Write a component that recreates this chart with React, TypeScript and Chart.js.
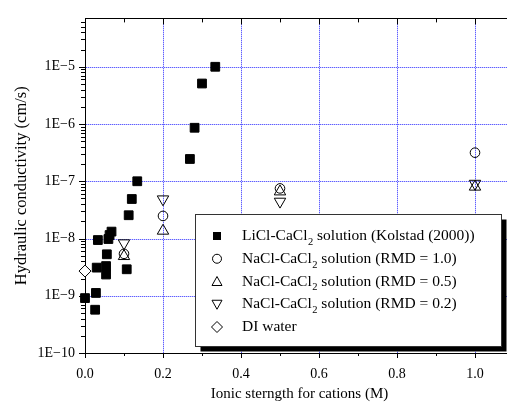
import { useEffect, useRef } from "react";
import { Chart, registerables } from "chart.js";
Chart.register(...registerables);

// ---- data ----
const xTickValues = [0, 0.2, 0.4, 0.6, 0.8, 1.0];
const xTickLabels = ["0.0", "0.2", "0.4", "0.6", "0.8", "1.0"];
const xMinorTicks = [0.1, 0.3, 0.5, 0.7, 0.9];
const xGridValues = [0.2, 0.4, 0.6, 0.8, 1.0];
const yTickValues = [1e-10, 1e-9, 1e-8, 1e-7, 1e-6, 1e-5];
const yTickLabels = ["1E\u221210", "1E\u22129", "1E\u22128", "1E\u22127", "1E\u22126", "1E\u22125"];
const yGridValues = [1e-9, 1e-8, 1e-7, 1e-6, 1e-5];

const liclX = [0.0, 0.026, 0.028, 0.03, 0.033, 0.054, 0.054, 0.056, 0.06, 0.063, 0.068, 0.107, 0.112, 0.12, 0.134, 0.269, 0.281, 0.3, 0.334];
const liclY = [9.1e-10, 5.7e-10, 1.12e-9, 3.1e-9, 9.4e-9, 3.3e-9, 2.35e-9, 5.3e-9, 9.8e-9, 1.15e-8, 1.32e-8, 2.9e-9, 2.55e-8, 4.9e-8, 1.0e-7, 2.45e-7, 8.6e-7, 5.1e-6, 1.0e-5];

const rmd10X = [0.1, 0.2, 0.5, 1.0];
const rmd10Y = [5.4e-9, 2.48e-8, 7.5e-8, 3.16e-7];
const rmd05X = [0.1, 0.2, 0.5, 1.0];
const rmd05Y = [4.9e-9, 1.36e-8, 6.6e-8, 8.0e-8];
const rmd02X = [0.1, 0.2, 0.5, 1.0];
const rmd02Y = [8.3e-9, 4.86e-8, 4.43e-8, 9.1e-8];
const diX = [0.0];
const diY = [2.7e-9];

const legendLabels: string[][] = [
  ["LiCl-CaCl", "2", " solution (Kolstad (2000))"],
  ["NaCl-CaCl", "2", " solution (RMD = 1.0)"],
  ["NaCl-CaCl", "2", " solution (RMD = 0.5)"],
  ["NaCl-CaCl", "2", " solution (RMD = 0.2)"],
  ["DI water", "", ""],
];
const legendMarkers = ["square", "circle", "up", "down", "diamond"];

const xTitle = "Ionic sterngth for cations (M)";
const yTitle = "Hydraulic conductivity (cm/s)";

const FONT = "'Liberation Serif', 'Times New Roman', serif";
const GRID_DOT = "rgb(95,95,255)";
const GRID_FAINT = "rgb(200,200,255)";

function pts(xs: number[], ys: number[]) {
  return xs.map((x, i) => ({ x, y: ys[i] }));
}

function drawMarker(ctx: CanvasRenderingContext2D, kind: string, x: number, y: number) {
  ctx.save();
  ctx.strokeStyle = "#000";
  ctx.fillStyle = "#000";
  ctx.lineWidth = 1;
  ctx.beginPath();
  if (kind === "square") {
    ctx.fillRect(x - 4, y - 4, 8, 8);
  } else if (kind === "circle") {
    ctx.arc(x, y, 4.5, 0, Math.PI * 2);
    ctx.stroke();
  } else if (kind === "up") {
    ctx.moveTo(x, y - 5);
    ctx.lineTo(x + 5, y + 4);
    ctx.lineTo(x - 5, y + 4);
    ctx.closePath();
    ctx.stroke();
  } else if (kind === "down") {
    ctx.moveTo(x, y + 5);
    ctx.lineTo(x + 5, y - 4);
    ctx.lineTo(x - 5, y - 4);
    ctx.closePath();
    ctx.stroke();
  } else if (kind === "diamond") {
    ctx.moveTo(x, y - 5.5);
    ctx.lineTo(x + 5.5, y);
    ctx.lineTo(x, y + 5.5);
    ctx.lineTo(x - 5.5, y);
    ctx.closePath();
    ctx.stroke();
  }
  ctx.restore();
}

const decorPlugin = {
  id: "decor",
  beforeDatasetsDraw(chart: any) {
    const ctx = chart.ctx as CanvasRenderingContext2D;
    const { left, right, top, bottom } = chart.chartArea;
    const xs = chart.scales.x;
    const ys = chart.scales.y;
    ctx.save();
    // dotted grid
    yGridValues.forEach((v) => {
      const py = Math.round(ys.getPixelForValue(v));
      for (let x = Math.round(left) + 1; x < right; x++) {
        ctx.fillStyle = x % 2 === 0 ? GRID_DOT : GRID_FAINT;
        ctx.fillRect(x, py, 1, 1);
      }
    });
    xGridValues.forEach((v) => {
      const px = Math.round(xs.getPixelForValue(v));
      for (let y = Math.round(top) + 1; y < bottom; y++) {
        ctx.fillStyle = y % 2 === 0 ? GRID_DOT : GRID_FAINT;
        ctx.fillRect(px, y, 1, 1);
      }
    });
    ctx.strokeStyle = "#000";
    ctx.lineWidth = 1;
    ctx.beginPath();
    // top axis line
    ctx.moveTo(left, Math.round(top) + 0.5);
    ctx.lineTo(right, Math.round(top) + 0.5);
    // x ticks
    xTickValues.forEach((v) => {
      const px = Math.round(xs.getPixelForValue(v)) + 0.5;
      ctx.moveTo(px, bottom);
      ctx.lineTo(px, bottom + 5);
      ctx.moveTo(px, top);
      ctx.lineTo(px, top + 6);
    });
    xMinorTicks.forEach((v) => {
      const px = Math.round(xs.getPixelForValue(v)) + 0.5;
      ctx.moveTo(px, bottom);
      ctx.lineTo(px, bottom + 3);
      ctx.moveTo(px, top);
      ctx.lineTo(px, top + 4);
    });
    // y ticks
    yTickValues.forEach((v) => {
      const py = Math.round(ys.getPixelForValue(v)) + 0.5;
      ctx.moveTo(left - 6, py);
      ctx.lineTo(left, py);
    });
    for (let e = -10; e <= -5; e++) {
      for (let k = 2; k <= 9; k++) {
        const v = k * Math.pow(10, e);
        if (v > ys.max) continue;
        const py = Math.round(ys.getPixelForValue(v)) + 0.5;
        ctx.moveTo(left - 4, py);
        ctx.lineTo(left, py);
      }
    }
    ctx.stroke();
    ctx.restore();
  },
  afterDraw(chart: any) {
    const ctx = chart.ctx as CanvasRenderingContext2D;
    const bx = 195.5, by = 214.5, bw = 306, bh = 132;
    ctx.save();
    ctx.fillStyle = "#000";
    ctx.fillRect(bx + 5, by + 5, bw, bh);
    ctx.fillStyle = "#fff";
    ctx.fillRect(bx, by, bw, bh);
    ctx.strokeStyle = "#333";
    ctx.lineWidth = 1;
    ctx.strokeRect(bx, by, bw, bh);
    const rowY0 = 236, rowStep = 22.75;
    legendLabels.forEach((parts, i) => {
      const y = rowY0 + i * rowStep;
      drawMarker(ctx, legendMarkers[i], 217, y);
      ctx.fillStyle = "#000";
      ctx.textBaseline = "middle";
      ctx.textAlign = "left";
      let x = 242;
      ctx.font = `15.5px ${FONT}`;
      ctx.fillText(parts[0], x, y);
      x += ctx.measureText(parts[0]).width;
      if (parts[1]) {
        ctx.font = `10.5px ${FONT}`;
        ctx.fillText(parts[1], x + 0.5, y + 6);
        x += ctx.measureText(parts[1]).width + 0.5;
      }
      if (parts[2]) {
        ctx.font = `15.5px ${FONT}`;
        ctx.fillText(parts[2], x, y);
      }
    });
    ctx.restore();
  },
};

export default function App() {
  const ref = useRef<HTMLCanvasElement | null>(null);
  useEffect(() => {
    if (!ref.current) return;
    const chart = new Chart(ref.current, {
      type: "scatter",
      data: {
        datasets: [
          {
            label: "LiCl",
            data: pts(liclX, liclY),
            pointStyle: "rect",
            pointRadius: 6.2,
            backgroundColor: "#000",
            borderColor: "#000",
            borderWidth: 1,
            clip: false,
          },
          {
            label: "RMD1.0",
            data: pts(rmd10X, rmd10Y),
            pointStyle: "circle",
            pointRadius: 4.8,
            backgroundColor: "rgba(0,0,0,0)",
            borderColor: "#000",
            borderWidth: 1,
            clip: false,
          },
          {
            label: "RMD0.5",
            data: pts(rmd05X, rmd05Y),
            pointStyle: "triangle",
            pointRadius: 6.6,
            backgroundColor: "rgba(0,0,0,0)",
            borderColor: "#000",
            borderWidth: 1,
            clip: false,
          },
          {
            label: "RMD0.2",
            data: pts(rmd02X, rmd02Y),
            pointStyle: "triangle",
            rotation: 180,
            pointRadius: 6.6,
            backgroundColor: "rgba(0,0,0,0)",
            borderColor: "#000",
            borderWidth: 1,
            clip: false,
          },
          {
            label: "DI",
            data: pts(diX, diY),
            pointStyle: "rectRot",
            pointRadius: 6,
            backgroundColor: "#fff",
            borderColor: "#000",
            borderWidth: 1,
            clip: false,
          },
        ],
      },
      options: {
        animation: false,
        responsive: false,
        devicePixelRatio: 1,
        events: [],
        layout: { padding: { left: 0, top: 12, right: 26, bottom: 0 } },
        plugins: { legend: { display: false }, tooltip: { enabled: false } },
        scales: {
          x: {
            type: "linear",
            min: 0,
            max: 1.1,
            afterFit: (s: any) => {
              s.height = 53;
            },
            afterBuildTicks: (s: any) => {
              s.ticks = xTickValues.map((v) => ({ value: v }));
            },
            ticks: {
              callback: (_v: any, i: number) => xTickLabels[i],
              font: { family: FONT, size: 14 },
              color: "#000",
              padding: 13,
              maxRotation: 0,
              autoSkip: false,
            },
            grid: { display: false, drawTicks: false },
            border: { display: true, color: "#000", width: 1 },
            title: {
              display: true,
              text: xTitle,
              font: { family: FONT, size: 15 },
              color: "#000",
              padding: { top: 0, bottom: 3 },
            },
          },
          y: {
            type: "logarithmic",
            min: 1e-10,
            max: 7e-5,
            afterFit: (s: any) => {
              s.width = 85;
            },
            afterBuildTicks: (s: any) => {
              s.ticks = yTickValues.map((v) => ({ value: v }));
            },
            ticks: {
              callback: (_v: any, i: number) => yTickLabels[i],
              font: { family: FONT, size: 14 },
              color: "#000",
              padding: 10,
              autoSkip: false,
            },
            grid: { display: false, drawTicks: false },
            border: { display: true, color: "#000", width: 1 },
            title: {
              display: true,
              text: yTitle,
              font: { family: FONT, size: 16.5 },
              color: "#000",
              padding: { top: 12, bottom: 0 },
            },
          },
        },
      } as any,
      plugins: [decorPlugin],
    });
    return () => chart.destroy();
  }, []);

  return (
    <div
      style={{
        position: "fixed",
        left: 0,
        top: 0,
        width: 507,
        height: 406,
        overflow: "hidden",
        background: "#fff",
      }}
    >
      <canvas ref={ref} width={540} height={406} style={{ display: "block" }} />
    </div>
  );
}
